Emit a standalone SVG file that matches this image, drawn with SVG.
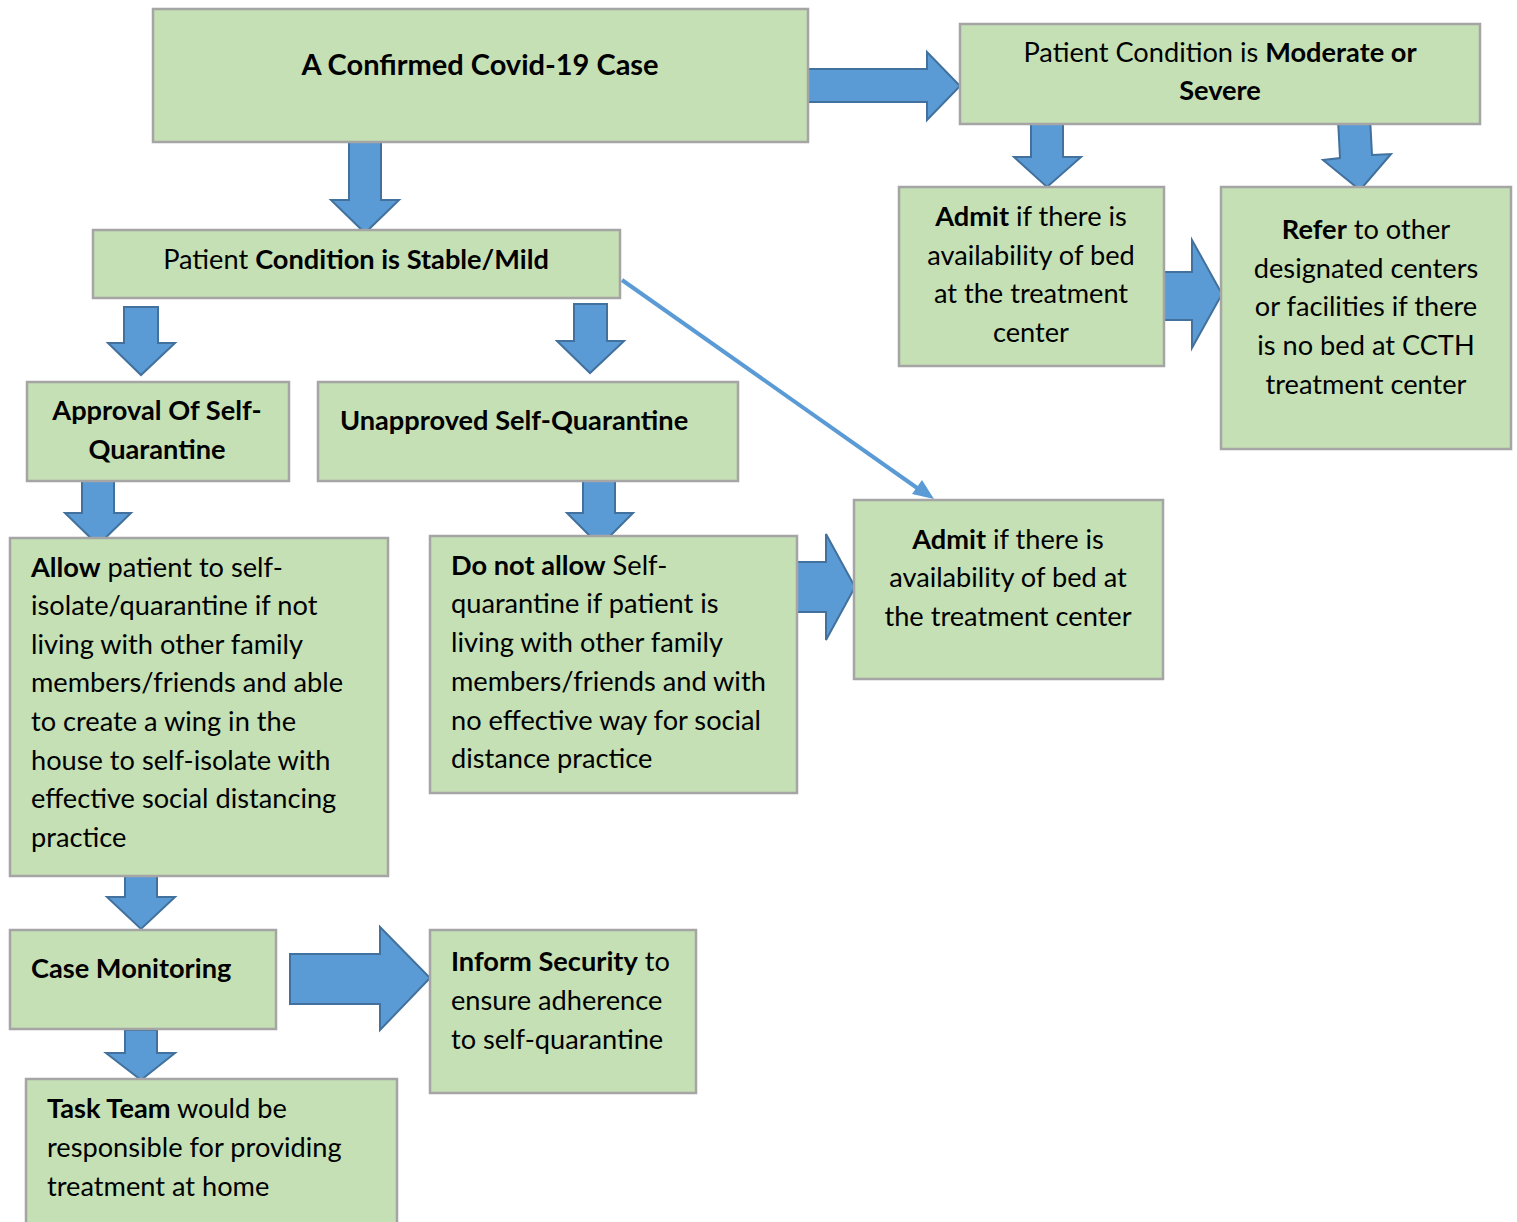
<svg xmlns="http://www.w3.org/2000/svg" width="1517" height="1222" viewBox="0 0 1517 1222">
<style>
.box{fill:#C5E0B4;stroke:#A5A5A5;stroke-width:2.5}
.ba{fill:#5B9BD5;stroke:#41719C;stroke-width:2;stroke-linejoin:miter}
text{font-family:Lato,"Open Sans",sans-serif;font-size:27.2px;fill:#000}
.b{font-weight:bold}
.c{text-anchor:middle}
.t{font-size:29px}
</style>
<rect width="1517" height="1222" fill="#fff"/>
<g id="connectors">
<polygon class="ba" points="808,69 927,69 927,52 960,86 927,120 927,102 808,102"/>
<polygon class="ba" points="1031,121 1063,121 1063,157 1081,157 1047,187 1014,157 1031,157"/>
<polygon class="ba" points="1338,119 1370,117 1372,155 1391,154 1360,190 1323,160 1340,158"/>
<polygon class="ba" points="1164,272 1192,272 1192,240 1222,294 1192,348 1192,320 1164,320"/>
<polygon class="ba" points="349,141 381,141 381,200 399,200 365,233 331,200 349,200"/>
<polygon class="ba" points="124,307 158,307 158,343 175,343 141,375 108,343 124,343"/>
<polygon class="ba" points="574,304 607,304 607,341 624,341 590,373 557,341 574,341"/>
<line x1="622" y1="280" x2="920" y2="490" stroke="#5B9BD5" stroke-width="4"/>
<polygon points="934,499 912,494 922,480" fill="#5B9BD5"/>
<polygon class="ba" points="82,477 114,477 114,513 131,513 98,545 65,513 82,513"/>
<polygon class="ba" points="583,477 615,477 615,513 633,513 600,546 567,513 583,513"/>
<polygon class="ba" points="796,562 826,562 826,534 855,587 826,640 826,612 796,612"/>
<polygon class="ba" points="125,862 157,862 157,897 175,897 141,929 107,897 125,897"/>
<polygon class="ba" points="290,954 380,954 380,927 430,978 380,1030 380,1004 290,1004"/>
<polygon class="ba" points="125,1030 157,1030 157,1053 175,1053 141,1080 106,1053 125,1053"/>
</g>
<g id="n1"><rect class="box" x="153" y="9" width="655" height="133"/>
<text class="b c t" x="480" y="75">A Confirmed Covid-19 Case</text></g>
<g id="n2"><rect class="box" x="960" y="24" width="520" height="100"/>
<text class="c" x="1220" y="62">Patient Condition is <tspan class="b">Moderate or</tspan></text>
<text class="b c" x="1220" y="100">Severe</text></g>
<g id="n3"><rect class="box" x="899" y="187" width="265" height="179"/>
<text class="c" x="1031" y="226"><tspan class="b">Admit</tspan> if there is</text>
<text class="c" x="1031" y="265">availability of bed</text>
<text class="c" x="1031" y="303">at the treatment</text>
<text class="c" x="1031" y="342">center</text></g>
<g id="n4"><rect class="box" x="1221" y="187" width="290" height="262"/>
<text class="c" x="1366" y="239"><tspan class="b">Refer</tspan> to other</text>
<text class="c" x="1366" y="278">designated centers</text>
<text class="c" x="1366" y="316">or facilities if there</text>
<text class="c" x="1366" y="355">is no bed at CCTH</text>
<text class="c" x="1366" y="394">treatment center</text></g>
<g id="n5"><rect class="box" x="93" y="230" width="527" height="68"/>
<text class="c" x="356" y="269">Patient <tspan class="b">Condition is Stable/Mild</tspan></text></g>
<g id="n6"><rect class="box" x="27" y="382" width="262" height="99"/>
<text class="b c" x="157" y="420">Approval Of Self-</text>
<text class="b c" x="157" y="459">Quarantine</text></g>
<g id="n7"><rect class="box" x="318" y="382" width="420" height="99"/>
<text class="b" x="340" y="430">Unapproved Self-Quarantine</text></g>
<g id="n8"><rect class="box" x="10" y="538" width="378" height="338"/>
<text x="31" y="577"><tspan class="b">Allow</tspan> patient to self-</text>
<text x="31" y="615">isolate/quarantine if not</text>
<text x="31" y="654">living with other family</text>
<text x="31" y="692">members/friends and able</text>
<text x="31" y="731">to create a wing in the</text>
<text x="31" y="770">house to self-isolate with</text>
<text x="31" y="808">effective social distancing</text>
<text x="31" y="847">practice</text></g>
<g id="n9"><rect class="box" x="430" y="536" width="367" height="257"/>
<text x="451" y="575"><tspan class="b">Do not allow</tspan> Self-</text>
<text x="451" y="613">quarantine if patient is</text>
<text x="451" y="652">living with other family</text>
<text x="451" y="691">members/friends and with</text>
<text x="451" y="730">no effective way for social</text>
<text x="451" y="768">distance practice</text></g>
<g id="n10"><rect class="box" x="854" y="500" width="309" height="179"/>
<text class="c" x="1008" y="549"><tspan class="b">Admit</tspan> if there is</text>
<text class="c" x="1008" y="587">availability of bed at</text>
<text class="c" x="1008" y="626">the treatment center</text></g>
<g id="n11"><rect class="box" x="10" y="930" width="266" height="99"/>
<text class="b" x="31" y="978">Case Monitoring</text></g>
<g id="n12"><rect class="box" x="430" y="930" width="266" height="163"/>
<text x="451" y="971"><tspan class="b">Inform Security</tspan> to</text>
<text x="451" y="1010">ensure adherence</text>
<text x="451" y="1049">to self-quarantine</text></g>
<g id="n13"><rect class="box" x="26" y="1079" width="371" height="150"/>
<text x="47" y="1118"><tspan class="b">Task Team</tspan> would be</text>
<text x="47" y="1157">responsible for providing</text>
<text x="47" y="1196">treatment at home</text></g>
</svg>
